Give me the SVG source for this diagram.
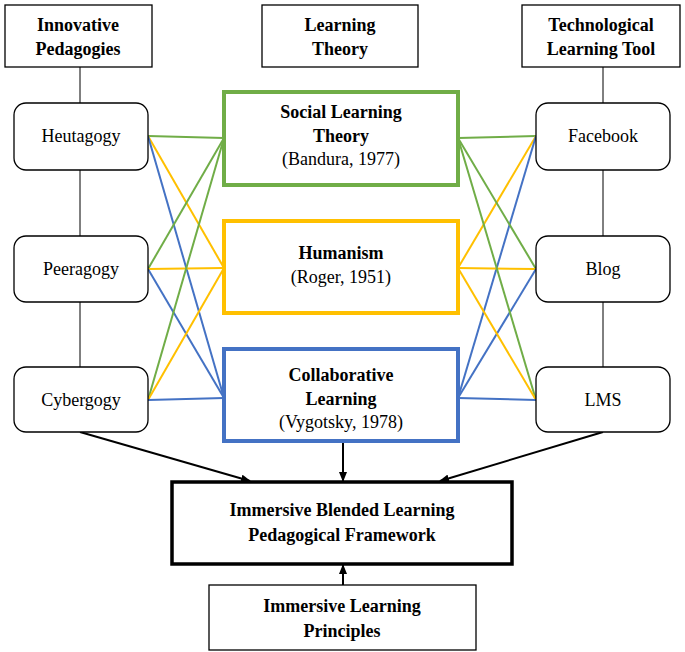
<svg xmlns="http://www.w3.org/2000/svg" width="685" height="652" viewBox="0 0 685 652" font-family="Liberation Serif, Times New Roman, DejaVu Serif, serif">
<defs>
<marker id="ar" markerWidth="10" markerHeight="8" refX="9" refY="4" orient="auto" markerUnits="userSpaceOnUse"><path d="M0,0 L10,4 L0,8 z" fill="#000"/></marker>
<style>
text{font-family:'Liberation Serif','Times New Roman','DejaVu Serif',serif;font-size:18px;fill:#000;text-anchor:middle}
.b{font-weight:bold}
.box{fill:#fff;stroke:#000;stroke-width:1.3}
.g{stroke:#70ad47}.y{stroke:#ffc000}.bl{stroke:#4472c4}
.c line{stroke-width:2}
</style>
</defs>
<g id="connectors" class="c">
<line x1="80" y1="67" x2="80" y2="400" style="stroke:#000;stroke-width:1"/>
<line x1="603" y1="67" x2="603" y2="400" style="stroke:#000;stroke-width:1"/>
<line class="g" x1="148" y1="136" x2="224" y2="138"/>
<line class="y" x1="148" y1="136" x2="224" y2="268"/>
<line class="bl" x1="148" y1="136" x2="224" y2="398"/>
<line class="g" x1="148" y1="269" x2="224" y2="138"/>
<line class="y" x1="148" y1="269" x2="224" y2="268"/>
<line class="bl" x1="148" y1="269" x2="224" y2="398"/>
<line class="g" x1="148" y1="400" x2="224" y2="138"/>
<line class="y" x1="148" y1="400" x2="224" y2="268"/>
<line class="bl" x1="148" y1="400" x2="224" y2="398"/>
<line class="g" x1="536" y1="136" x2="458" y2="138"/>
<line class="y" x1="536" y1="136" x2="458" y2="268"/>
<line class="bl" x1="536" y1="136" x2="458" y2="398"/>
<line class="g" x1="536" y1="269" x2="458" y2="138"/>
<line class="y" x1="536" y1="269" x2="458" y2="268"/>
<line class="bl" x1="536" y1="269" x2="458" y2="398"/>
<line class="g" x1="536" y1="400" x2="458" y2="138"/>
<line class="y" x1="536" y1="400" x2="458" y2="268"/>
<line class="bl" x1="536" y1="400" x2="458" y2="398"/>
<g style="stroke:#000;stroke-width:1">
<line x1="80" y1="432" x2="250" y2="481" marker-end="url(#ar)"/>
<line x1="343" y1="441" x2="343" y2="481" marker-end="url(#ar)"/>
<line x1="603" y1="432" x2="440" y2="481" marker-end="url(#ar)"/>
<line x1="343" y1="585" x2="343" y2="565" marker-end="url(#ar)"/>
</g>
</g>
<g id="h1"><rect class="box" x="5" y="5" width="147" height="62"/><text class="b" x="78" y="31">Innovative</text><text class="b" x="78" y="55">Pedagogies</text></g>
<g id="h2"><rect class="box" x="262" y="5" width="156" height="62"/><text class="b" x="340" y="31">Learning</text><text class="b" x="340" y="55">Theory</text></g>
<g id="h3"><rect class="box" x="522" y="5" width="158" height="62"/><text class="b" x="601" y="31">Technological</text><text class="b" x="601" y="55">Learning Tool</text></g>
<g id="heutagogy"><rect class="box" x="14" y="103" width="134" height="67" rx="12"/><text x="81" y="142">Heutagogy</text></g>
<g id="peeragogy"><rect class="box" x="14" y="236" width="134" height="66" rx="12"/><text x="81" y="275">Peeragogy</text></g>
<g id="cybergogy"><rect class="box" x="14" y="367" width="134" height="65" rx="12"/><text x="81" y="406">Cybergogy</text></g>
<g id="facebook"><rect class="box" x="536" y="103" width="134" height="67" rx="12"/><text x="603" y="142">Facebook</text></g>
<g id="blog"><rect class="box" x="536" y="236" width="134" height="66" rx="12"/><text x="603" y="275">Blog</text></g>
<g id="lms"><rect class="box" x="536" y="367" width="134" height="65" rx="12"/><text x="603" y="406">LMS</text></g>
<g id="slt"><rect x="224" y="92" width="234" height="93" fill="#fff" stroke="#70ad47" stroke-width="4"/><text class="b" x="341" y="118">Social Learning</text><text class="b" x="341" y="142">Theory</text><text x="341" y="165">(Bandura, 1977)</text></g>
<g id="humanism"><rect x="224" y="221" width="234" height="92" fill="#fff" stroke="#ffc000" stroke-width="4"/><text class="b" x="341" y="259">Humanism</text><text x="341" y="283">(Roger, 1951)</text></g>
<g id="collab"><rect x="224" y="349" width="234" height="92" fill="#fff" stroke="#4472c4" stroke-width="4"/><text class="b" x="341" y="381">Collaborative</text><text class="b" x="341" y="405">Learning</text><text x="341" y="428">(Vygotsky, 1978)</text></g>
<g id="framework"><rect x="172" y="482" width="340" height="82" fill="#fff" stroke="#000" stroke-width="3.5"/><text class="b" x="342" y="516">Immersive Blended Learning</text><text class="b" x="342" y="541">Pedagogical Framework</text></g>
<g id="principles"><rect class="box" x="209" y="585" width="267" height="65"/><text class="b" x="342" y="612">Immersive Learning</text><text class="b" x="342" y="637">Principles</text></g>
</svg>
